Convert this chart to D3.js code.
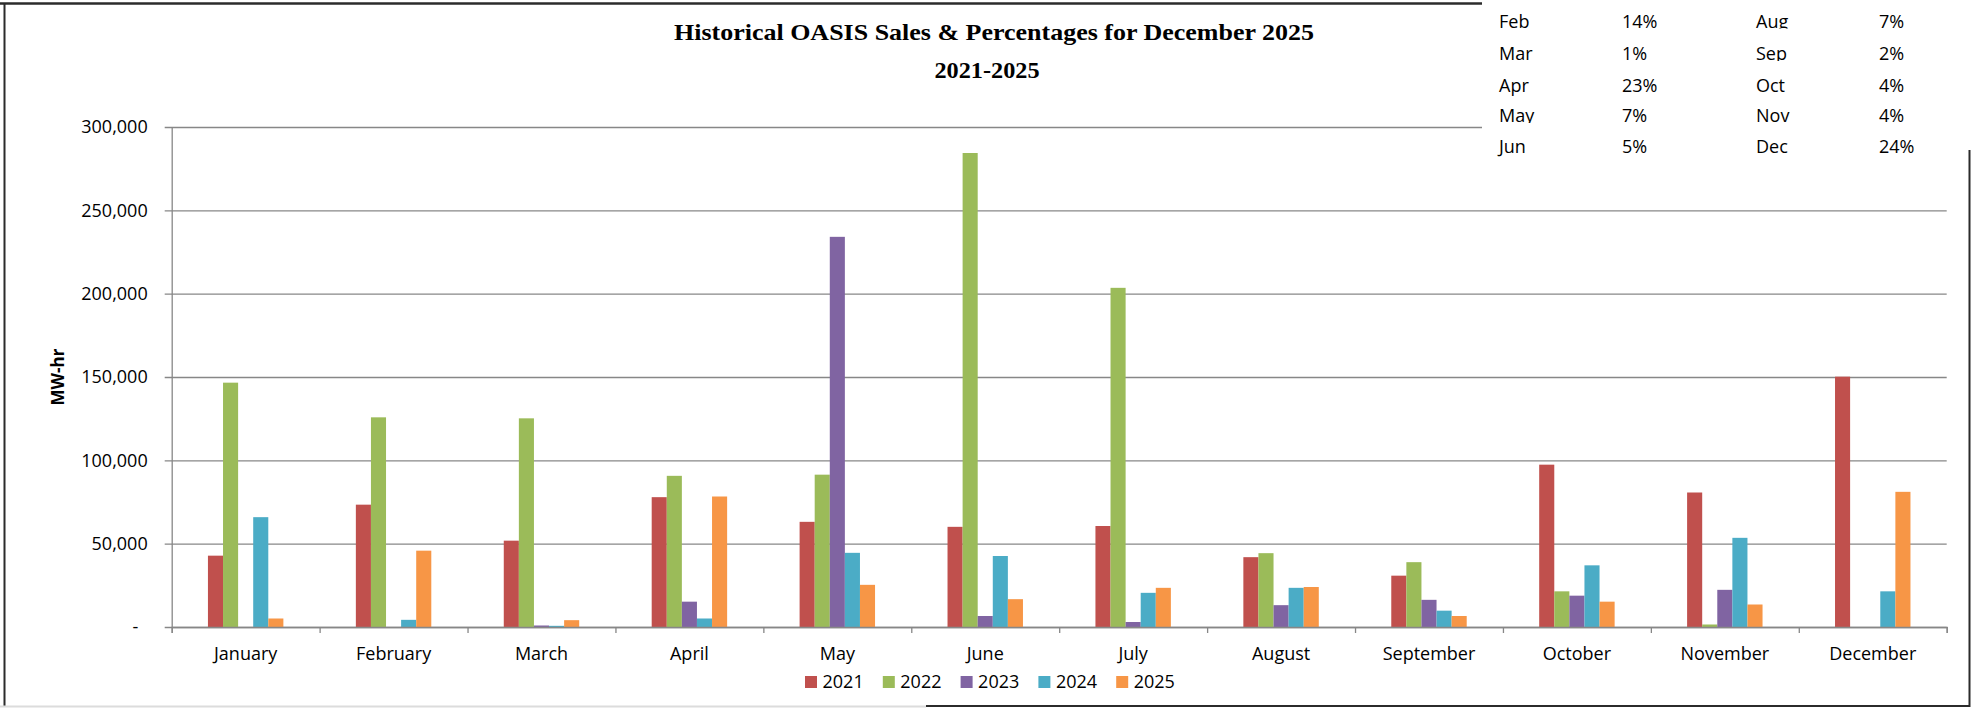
<!DOCTYPE html>
<html>
<head>
<meta charset="utf-8">
<script src="https://cdn.jsdelivr.net/npm/d3@7"></script>
<style>
  body { margin: 0; background: #fff; }
  svg { display: block; }
  .tick text { font-family: "Open Sans", sans-serif; fill: #000; }
</style>
</head>
<body>
<div id="container"></div>
<script>
// chart data
let months = ["January","February","March","April","May","June","July","August","September","October","November","December"];
let years = ["2021","2022","2023","2024","2025"];
let s2021 = [42800, 73400, 51800, 77900, 63100, 60100, 60600, 41900, 30800, 97400, 80700, 150200];
let s2022 = [146600, 125800, 125200, 90700, 91400, 284400, 203500, 44300, 38900, 21400, 1500, 0];
let s2023 = [0, 0, 900, 15200, 234100, 6600, 3000, 13100, 16300, 18800, 22300, 0];
let s2024 = [65900, 4300, 700, 5100, 44500, 42600, 20500, 23500, 9800, 37000, 53500, 21400];
let s2025 = [5100, 45800, 4100, 78300, 25300, 16700, 23500, 24000, 6600, 15200, 13500, 81100];
let yTicks = [0, 50000, 100000, 150000, 200000, 250000, 300000];
let colors = ["#C0504D", "#9BBB59", "#8064A2", "#4BACC6", "#F79646"];

// percentage table in the top right corner
let pctMonthsA = ["Feb","Mar","Apr","May","Jun"];
let pctA = ["14%","1%","23%","7%","5%"];
let pctMonthsB = ["Aug","Sep","Oct","Nov","Dec"];
let pctB = ["7%","2%","4%","4%","24%"];

let w = 1973, h = 708;
let plotL = 171.7, plotR = 1946.7, plotT = 127, plotB = 627;
let plotW = plotR - plotL;

let svg = d3.select("div#container").append("svg")
    .attr("width", w).attr("height", h)
    .style("background-color", "#fff");

let series = [s2021, s2022, s2023, s2024, s2025];
let data = months.map((m, i) => ({month: m, values: series.map((s, j) => ({year: years[j], value: s[i], k: j}))}));

let x0 = d3.scaleBand().domain(months).range([plotL, plotR]).padding(0);
let groupW = x0.bandwidth() * 0.51;
let x1 = d3.scaleBand().domain(years).range([0, groupW]).padding(0);
let y = d3.scaleLinear().domain([0, 300000]).range([plotB, plotT]);

// gridlines + y labels
let fmt = d3.format(",");
let grid = svg.append("g")
    .attr("transform", "translate(" + plotR + ",0)")
    .call(d3.axisLeft(y).tickValues(yTicks).tickSize(plotW + 7).tickPadding(17)
        .tickFormat(d => d === 0 ? "-\u00a0\u00a0" : fmt(d)));
grid.select(".domain").remove();
grid.selectAll(".tick line").attr("stroke", "#878787").attr("stroke-width", 1.3);
grid.selectAll(".tick text").style("font-size", "18px");

// y axis line
let yAxis = svg.append("g")
    .attr("transform", "translate(" + plotL + ",0)")
    .call(d3.axisLeft(y).tickValues([]).tickSizeOuter(0));
yAxis.select(".domain").attr("stroke", "#878787").attr("stroke-width", 1.3);

// bars
svg.append("g").selectAll("g")
    .data(data)
    .enter().append("g")
    .attr("transform", d => "translate(" + (x0(d.month) + (x0.bandwidth() - groupW) / 2) + ",0)")
    .selectAll("rect")
    .data(d => d.values)
    .enter().append("rect")
    .attr("x", d => x1(d.year))
    .attr("width", x1.bandwidth())
    .attr("y", d => y(d.value))
    .attr("height", d => y(0) - y(d.value))
    .attr("fill", d => colors[d.k]);

// x axis: boundary ticks
let xb = d3.scaleLinear().domain([0, months.length]).range([plotL, plotR]);
let xTicks = svg.append("g")
    .attr("transform", "translate(0," + plotB + ")")
    .call(d3.axisBottom(xb).tickValues(d3.range(months.length + 1)).tickSize(6).tickSizeOuter(6).tickFormat(""));
xTicks.selectAll("line, path").attr("stroke", "#878787").attr("stroke-width", 1.3);

// x axis: month labels
let xLab = svg.append("g")
    .attr("transform", "translate(0," + plotB + ")")
    .call(d3.axisBottom(x0).tickSize(0).tickPadding(20));
xLab.select(".domain").remove();
xLab.selectAll(".tick text").style("font-size", "18px");

// y axis title
svg.append("text")
    .attr("transform", "translate(64," + ((plotT + plotB) / 2) + ") rotate(-90)")
    .attr("text-anchor", "middle")
    .style("font-family", "'Open Sans', sans-serif")
    .style("font-weight", "bold")
    .style("font-size", "17px")
    .text("MW-hr");

// title
svg.append("text")
    .attr("x", 994).attr("y", 40)
    .attr("text-anchor", "middle")
    .attr("textLength", 640).attr("lengthAdjust", "spacingAndGlyphs")
    .style("font-family", "'Liberation Serif', serif")
    .style("font-weight", "bold")
    .style("font-size", "24px")
    .text("Historical OASIS Sales & Percentages for December 2025");
svg.append("text")
    .attr("x", 987).attr("y", 78)
    .attr("text-anchor", "middle")
    .attr("textLength", 105).attr("lengthAdjust", "spacingAndGlyphs")
    .style("font-family", "'Liberation Serif', serif")
    .style("font-weight", "bold")
    .style("font-size", "24px")
    .text("2021-2025");

// legend
let lg = svg.append("g").attr("transform", "translate(805,676)");
let item = lg.selectAll("g").data(years).enter().append("g")
    .attr("transform", (d, i) => "translate(" + (i * 77.8) + ",0)");
item.append("rect").attr("width", 12).attr("height", 12).attr("fill", (d, i) => colors[i]);
item.append("text")
    .attr("x", 17.5).attr("y", 6).attr("dy", "0.35em")
    .style("font-family", "'Open Sans', sans-serif")
    .style("font-size", "18px")
    .text(d => d);

// frame
let frame = svg.append("g").attr("fill", "none");
frame.append("line").attr("x1", 0).attr("x2", 1482).attr("y1", 3.5).attr("y2", 3.5).attr("stroke", "#2b2b2b").attr("stroke-width", 2.5);
frame.append("line").attr("x1", 4.5).attr("x2", 4.5).attr("y1", 3).attr("y2", 707).attr("stroke", "#2b2b2b").attr("stroke-width", 2);
frame.append("line").attr("x1", 0).attr("x2", 926).attr("y1", 706.5).attr("y2", 706.5).attr("stroke", "#dcdcdc").attr("stroke-width", 2);
frame.append("line").attr("x1", 926).attr("x2", 1970).attr("y1", 706).attr("y2", 706).attr("stroke", "#2b2b2b").attr("stroke-width", 2);
frame.append("line").attr("x1", 1969.5).attr("x2", 1969.5).attr("y1", 150).attr("y2", 707).attr("stroke", "#2b2b2b").attr("stroke-width", 2);

// percentage table on top
svg.append("rect").attr("x", 1482).attr("y", 0).attr("width", w - 1482).attr("height", 148).attr("fill", "#fff");
let rowBase = [27.5, 60, 91.5, 122, 153];
let clipped = [true, true, false, true, false];
let colX = [1499, 1622, 1756, 1879];
let defs = svg.append("defs");
rowBase.forEach((b, i) => {
    defs.append("clipPath").attr("id", "row" + i)
        .append("rect").attr("x", 1482).attr("y", b - 24).attr("width", w - 1482).attr("height", clipped[i] ? 25 : 32);
});
let tbl = svg.append("g")
    .style("font-family", "'Open Sans', sans-serif")
    .style("font-size", "18px");
[pctMonthsA, pctA, pctMonthsB, pctB].forEach((col, c) => {
    col.forEach((t, i) => {
        tbl.append("text")
            .attr("clip-path", "url(#row" + i + ")")
            .attr("x", colX[c]).attr("y", rowBase[i])
            .text(t);
    });
});
</script>
</body>
</html>
